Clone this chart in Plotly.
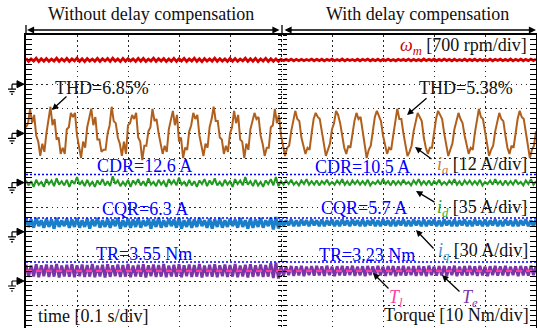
import numpy as np
import plotly.graph_objects as go

# ---------------- data ----------------
DT_IA = 0.004   # s, sample step of ia
DT = 0.005      # s, sample step of the other channels

ia_A = [
    3, 5, 12, 5, 9, -1, -4, -11, -5, -9,
    0, 6, 13, 4, 7, -3, -2, -10, -7, -10,
    2, 3, 10, 8, 10, -1, -6, -12, -4, -7,
    3, 7, 12, 4, 8, -3, -3, -9, -8, -8,
    0, 4, 13, 6, 5, -2, -5, -11, -4, -10,
    4, 5, 9, 7, 10, -2, -4, -13, -6, -6,
    1, 3, 12, 6, 7, 0, -5, -10, -6, -9,
    2, 6, 11, 4, 9, -4, -2, -12, -7, -8,
    1, 4, 10, 7, 9, -1, -6, -11, -5, -7,
    3, 7, 13, 6, 6, -2, -3, -10, -6, -9,
    0, 3, 11, 5, 9, -3, -4, -12, -5, -8,
    2, 6, 10, 7, 8, -1, -5, -11, -7, -7,
    3, 4, 12, 5, 9,
    -1, -6, -11, -7, -6,
    1, 6, 11, 7, 6, -2, -6, -10, -7, -8,
    0, 7, 10, 8, 7, 0, -5, -11, -8, -5,
    2, 5, 11, 9, 5, -1, -7, -10, -6, -7,
    0, 6, 10, 7, 8, 1, -6, -12, -8, -6,
    1, 8, 11, 8, 6, -1, -5, -10, -7, -8,
    -1, 6, 12, 7, 7, 0, -6, -11, -9, -6,
    1, 5, 10, 8, 6, -2, -7, -10, -7, -7,
    0, 7, 11, 9, 7, 0, -6, -11, -8, -5,
    2, 6, 10, 7, 5, -1, -5, -10, -7, -8,
    0, 6, 12, 8, 7, 1, -6, -11, -8, -6,
    1, 5, 10, 7, 6, -1, -7, -10, -6, -7,
    0, 7, 11, 8, 7, 0, -6, -12, -8, -6,
    1,
]

wm_rpm = [
    735, 650, 720, 660, 740, 645, 725, 655, 730, 650,
    715, 660, 738, 648, 722, 657, 733, 646, 719, 662,
    741, 651, 726, 644, 731, 659, 717, 653, 736, 647,
    724, 661, 729, 649, 739, 656, 718, 645, 733, 652,
    727, 663, 721, 648, 737, 654, 732, 646, 716, 660,
    742, 650, 723, 657, 730, 645, 719, 655, 734, 649,
    728, 662, 736, 647, 720, 658, 739, 651, 725, 644,
    731, 656, 718, 653, 740, 648, 727, 660, 722, 646,
    735, 655, 729, 650, 717, 661, 738, 647, 724, 652,
    733, 645, 721, 659, 737, 650, 726, 654, 719, 648,
    712, 668, 705, 672, 715, 665, 708, 670, 710, 667,
    703, 674, 714, 666, 707, 671, 711, 664, 706, 673,
    713, 669, 704, 670, 716, 665, 709, 672, 702, 668,
    711, 666, 707, 673, 714, 667, 705, 670, 712, 664,
    708, 671, 715, 669, 703, 666, 710, 674, 706, 668,
    713, 665, 709, 671, 704, 667, 716, 670, 707, 672,
    711, 666, 705, 669, 714, 673, 708, 664, 710, 670,
    703, 668, 715, 667, 706, 672, 712, 665, 709, 671,
    704, 669, 713, 666, 707, 673, 711, 668, 705, 670,
    716, 664, 708, 671, 712, 667, 706, 669, 714, 672,
    710,
]

id_A = [
    3, -4, 2, -6, 4, -3, 1, -6, 5, -2,
    3, -5, 6, -3, 2, -4, 4, -6, 3, -2,
    8, -3, 2, -5, 4, -4, 1, -6, 3, -3,
    5, -4, 2, -5, 9, -2, 3, -5, 1, -4,
    4, -6, 3, -2, 5, -4, 2, -5, 6, -3,
    1, -5, 4, -3, 2, -6, 5, -2, 3, -4,
    7, -3, 1, -5, 4, -4, 2, -6, 3, -2,
    5, -5, 3, -3, 6, -4, 1, -5, 4, -3,
    2, -6, 5, -2, 3, -4, 8, -3, 2, -5,
    4, -4, 1, -6, 3, -2, 5, -4, 8, -5,
    2, -3, 3, -2, 4, -3, 1, -4, 3, -2,
    5, -3, 2, -3, 3, -4, 2, -2, 4, -3,
    1, -3, 3, -2, 5, -3, 2, -4, 3, -2,
    3, -3, 2, -3, 4, -4, 1, -2, 3, -3,
    5, -2, 2, -4, 3, -3, 2, -3, 4, -2,
    1, -4, 3, -2, 5, -3, 2, -3, 3, -4,
    2, -2, 4, -3, 1, -3, 3, -2, 5, -3,
    2, -4, 3, -2, 3, -3, 2, -3, 4, -4,
    1, -2, 3, -3, 5, -2, 2, -4, 3, -3,
    2, -3, 4, -2, 1, -4, 3, -2, 5, -3,
    2,
]

iq_A = [
    16, 6, 15, 5, 17, 7, 14, 5, 16, 6,
    15, 4, 17, 6, 14, 7, 16, 5, 15, 6,
    17, 5, 14, 6, 16, 4, 15, 7, 17, 5,
    14, 6, 16, 5, 15, 7, 17, 4, 14, 6,
    16, 5, 15, 6, 17, 5, 14, 7, 16, 4,
    15, 6, 17, 5, 14, 6, 16, 7, 15, 5,
    17, 4, 14, 6, 16, 5, 15, 6, 17, 7,
    14, 5, 16, 4, 15, 6, 17, 5, 14, 6,
    16, 7, 15, 5, 17, 6, 14, 4, 16, 5,
    15, 6, 17, 5, 14, 7, 17, 3, 18, 4,
    15, 7, 14, 8, 15, 7, 14, 7, 15, 8,
    14, 7, 15, 8, 14, 7, 15, 7, 14, 8,
    15, 7, 14, 7, 15, 8, 14, 7, 15, 8,
    14, 7, 15, 7, 14, 8, 15, 7, 14, 7,
    15, 8, 14, 7, 15, 7, 14, 8, 15, 7,
    14, 7, 15, 8, 14, 7, 15, 7, 14, 8,
    15, 7, 14, 7, 15, 8, 14, 7, 15, 7,
    14, 8, 15, 7, 14, 7, 15, 8, 14, 7,
    15, 7, 14, 8, 15, 7, 14, 7, 15, 8,
    14, 7, 15, 7, 14, 8, 15, 7, 14, 7,
    15,
]

te_Nm = [
    6.6, 1.7, 6.3, 1.9, 6.8, 1.5, 6.4, 2.0, 6.7, 1.6,
    6.5, 1.8, 6.9, 1.4, 6.3, 1.9, 6.6, 1.7, 6.8, 1.5,
    6.4, 2.0, 6.7, 1.6, 6.5, 1.8, 6.9, 1.5, 6.3, 1.9,
    6.6, 1.4, 6.8, 1.7, 6.4, 2.0, 6.7, 1.6, 6.5, 1.8,
    6.9, 1.5, 6.3, 1.9, 6.6, 1.7, 6.8, 1.4, 6.4, 2.0,
    6.7, 1.6, 6.5, 1.8, 6.9, 1.5, 6.3, 1.9, 6.6, 1.7,
    6.8, 1.5, 6.4, 2.0, 6.7, 1.6, 6.5, 1.8, 6.9, 1.4,
    6.3, 1.9, 6.6, 1.7, 6.8, 1.5, 6.4, 2.0, 6.7, 1.6,
    6.5, 1.8, 6.9, 1.5, 6.3, 1.9, 6.6, 1.4, 6.8, 1.7,
    6.4, 2.0, 6.7, 1.6, 6.5, 1.8, 7.2, 1.2, 7.4, 1.0,
    6.0, 2.2, 5.8, 2.4, 6.1, 2.1, 5.9, 2.3, 6.2, 2.0,
    5.8, 2.4, 6.0, 2.2, 6.1, 2.3, 5.9, 2.1, 6.2, 2.4,
    5.8, 2.0, 6.0, 2.3, 6.1, 2.2, 5.9, 2.4, 6.2, 2.1,
    5.8, 2.3, 6.0, 2.0, 6.1, 2.4, 5.9, 2.2, 6.2, 2.3,
    5.8, 2.1, 6.0, 2.4, 6.1, 2.0, 5.9, 2.3, 6.2, 2.2,
    5.8, 2.4, 6.0, 2.1, 6.1, 2.3, 5.9, 2.0, 6.2, 2.4,
    5.8, 2.2, 6.0, 2.3, 6.1, 2.1, 5.9, 2.4, 6.2, 2.0,
    5.8, 2.3, 6.0, 2.2, 6.1, 2.4, 5.9, 2.1, 6.2, 2.3,
    5.8, 2.0, 6.0, 2.4, 6.1, 2.2, 5.9, 2.3, 6.2, 2.1,
    5.8, 2.4, 6.0, 2.0, 6.1, 2.3, 5.9, 2.2, 6.2, 2.4,
    6.0,
]

tl_t = [0.0, 1.0]
tl_Nm = [4.1, 4.1]

# reference (envelope) levels, channel units
ref_t = [0.0, 1.0]
cdr_level_A = [11.5, 11.5]
cqr_level_A = [16.8, 16.8]
tr_level_Nm = [7.7, 7.7]

# channel ground (in divisions from bottom) and scale per division
GND = {"wm": 10, "ia": 8, "id": 6, "iq": 4, "T": 2}
SCALE = {"wm": 700, "ia": 12, "id": 35, "iq": 30, "T": 10}

# ---------------- geometry ----------------
W, H = 537, 328
ML, MR, MT, MB = 26, 1, 35, 0
PW, PH = W - ML - MR, H - MT - MB
DIV_PX = 24.6
Y_TOP = 12.0
Y_BOT = Y_TOP - PH / DIV_PX


def to_div(ch, vals):
    return GND[ch] + np.asarray(vals, dtype=float) / SCALE[ch]


def pp(xp, yp):
    """pixel position -> paper coords"""
    return (xp - ML) / PW, (H - MB - yp) / PH


t_ia = np.arange(len(ia_A)) * DT_IA
t_wm = np.arange(len(wm_rpm)) * DT
t_id = np.arange(len(id_A)) * DT
t_iq = np.arange(len(iq_A)) * DT
t_te = np.arange(len(te_Nm)) * DT

C_WM, C_IA, C_ID, C_IQ = "#d40000", "#b0601c", "#1f9a1f", "#1a7fc8"
C_TE, C_TL, C_REF = "#7b35a6", "#ff3d9e", "#0000ff"

fig = go.Figure()
fig.add_trace(go.Scatter(x=t_wm, y=to_div("wm", wm_rpm), mode="lines",
                         line=dict(color=C_WM, width=2.8)))
fig.add_trace(go.Scatter(x=t_ia, y=to_div("ia", ia_A), mode="lines",
                         line=dict(color=C_IA, width=2.0)))
fig.add_trace(go.Scatter(x=t_id, y=to_div("id", id_A), mode="lines",
                         line=dict(color=C_ID, width=2.0)))
fig.add_trace(go.Scatter(x=t_iq, y=to_div("iq", iq_A), mode="lines",
                         line=dict(color=C_IQ, width=3.2)))
fig.add_trace(go.Scatter(x=t_te, y=to_div("T", te_Nm), mode="lines",
                         line=dict(color=C_TE, width=2.9)))
fig.add_trace(go.Scatter(x=tl_t, y=to_div("T", tl_Nm), mode="lines",
                         line=dict(color=C_TL, width=2.2, dash="6px,4px")))
for ch, lv in (("id", cdr_level_A), ("iq", cqr_level_A), ("T", tr_level_Nm)):
    fig.add_trace(go.Scatter(x=ref_t, y=to_div(ch, lv), mode="lines",
                             line=dict(color=C_REF, width=1.5, dash="2px,2px")))
# dummy traces for the centre tick columns
fig.add_trace(go.Scatter(x=[None], y=[None], yaxis="y2"))
fig.add_trace(go.Scatter(x=[None], y=[None], yaxis="y3"))

GRID = dict(showgrid=True, gridcolor="rgba(0,0,0,0.85)", gridwidth=1.2,
            griddash="1.5px,3.6px")

fig.update_layout(
    width=W, height=H, showlegend=False,
    margin=dict(l=ML, r=MR, t=MT, b=MB, pad=0),
    paper_bgcolor="white", plot_bgcolor="white",
    font=dict(family="Liberation Serif", size=18, color="#111"),
    xaxis=dict(range=[0, 1.0], side="top", showline=True, linecolor="black",
               linewidth=1.5, ticks="", showticklabels=False, dtick=0.1, tick0=0,
               zeroline=False, **GRID),
    yaxis=dict(range=[Y_BOT, Y_TOP], showline=True, linecolor="black", linewidth=1.5,
               mirror="allticks", ticks="inside", ticklen=6, tickwidth=1.3,
               tickcolor="black", dtick=1, tick0=0, showticklabels=False,
               zeroline=False,
               minor=dict(dtick=0.2, tick0=0, ticks="inside", ticklen=6,
                          tickwidth=1.3, tickcolor="black", showgrid=False),
               **GRID),
    yaxis2=dict(range=[Y_BOT, Y_TOP], overlaying="y", anchor="free", position=0.502,
                side="left", ticks="outside", ticklen=4, tickwidth=1.3,
                tickcolor="black", dtick=0.2, tick0=0, showline=False,
                showgrid=False, showticklabels=False, zeroline=False),
    yaxis3=dict(range=[Y_BOT, Y_TOP], overlaying="y", anchor="free", position=0.502,
                side="right", ticks="outside", ticklen=4, tickwidth=1.3,
                tickcolor="black", dtick=0.2, tick0=0, showline=False,
                showgrid=False, showticklabels=False, zeroline=False),
)

# ---------------- ground markers ----------------
for ch, g in GND.items():
    fig.add_shape(type="path", xref="paper", yref="y", xsizemode="pixel",
                  ysizemode="pixel", xanchor=0, yanchor=g,
                  path="M -9,3.5 L -2,0 L -9,-3.5 Z",
                  fillcolor="black", line=dict(color="black", width=1))
    fig.add_shape(type="path", xref="paper", yref="y", xsizemode="pixel",
                  ysizemode="pixel", xanchor=0, yanchor=g,
                  path="M -14,0 L -9,0 M -14,0 L -14,-5 M -18,-5 L -10,-5 "
                       "M -16.5,-7.5 L -11.5,-7.5 M -15,-10 L -13,-10",
                  line=dict(color="black", width=1.2))

# small verticals above frame
for xpx in (26, 282):
    x0, _ = pp(xpx, 0)
    _, y0 = pp(0, 35)
    _, y1 = pp(0, 25)
    fig.add_shape(type="line", xref="paper", yref="paper", x0=x0, x1=x0, y0=y0, y1=y1,
                  line=dict(color="black", width=1.3))

# ---------------- span arrows ----------------
_, ya = pp(0, 30)
fig.add_annotation(x=pp(27, 0)[0], y=ya, xref="paper", yref="paper", text="",
                   showarrow=True, ax=254, ay=0, axref="pixel", ayref="pixel",
                   arrowside="end+start", arrowhead=2, startarrowhead=2,
                   arrowsize=1.1, startarrowsize=1.1, arrowwidth=1.3, arrowcolor="black",
                   standoff=0, startstandoff=0)
fig.add_annotation(x=pp(536, 0)[0], y=ya, xref="paper", yref="paper", text="",
                   showarrow=True, ax=-253, ay=0, axref="pixel", ayref="pixel",
                   arrowside="end+start", arrowhead=2, startarrowhead=2,
                   arrowsize=1.1, startarrowsize=1.1, arrowwidth=1.3, arrowcolor="black",
                   standoff=0, startstandoff=0)


def text(xp, yp, s, anchor="center", color="#111"):
    x, y = pp(xp, yp)
    fig.add_annotation(x=x, y=y, xref="paper", yref="paper", text=s, showarrow=False,
                       xanchor=anchor, yanchor="middle", font=dict(color=color))


def pointer(tipx, tipy, tailx, taily):
    x, y = pp(tipx, tipy)
    fig.add_annotation(x=x, y=y, xref="paper", yref="paper", text="", showarrow=True,
                       ax=tailx - tipx, ay=taily - tipy, axref="pixel", ayref="pixel",
                       arrowhead=2, arrowsize=1, arrowwidth=1.3, arrowcolor="black",
                       standoff=0)


text(151, 14, "Without delay compensation")
text(417, 14, "With delay compensation")
text(529, 46, "<span style='color:#cc0000'><i>ω<sub>m</sub></i></span> [700 rpm/div]", "right")
text(102, 88, "THD=6.85%")
text(466, 88, "THD=5.38%")
text(529, 165, "<span style='color:#c87832'><i>i<sub>a</sub></i></span> [12 A/div]", "right")
text(144, 166, "CDR=12.6 A", color=C_REF)
text(362, 167, "CDR=10.5 A", color=C_REF)
text(529, 208, "<span style='color:#2aaa2a'><i>i<sub>d</sub></i></span> [35 A/div]", "right")
text(145, 209, "CQR=6.3 A", color=C_REF)
text(364, 208, "CQR=5.7 A", color=C_REF)
text(530, 251, "<span style='color:#3a96d8'><i>i<sub>q</sub></i></span> [30 A/div]", "right")
text(144, 254, "TR=3.55 Nm", color=C_REF)
text(367, 255, "TR=3.23 Nm", color=C_REF)
text(396, 298, "<i>T<sub>l</sub></i>", color=C_TL)
text(470, 298, "<i>T<sub>e</sub></i>", color=C_TE)
text(531, 315, "Torque [10 Nm/div]", "right")
text(36, 316, "time [0.1 s/div]", "left")

pointer(52, 110, 68, 95)
pointer(407, 115, 428, 97)
pointer(415, 147, 433, 160)
pointer(416, 191, 436, 203)
pointer(416, 230, 435, 250)
pointer(373, 273, 390, 290)
pointer(442, 275, 461, 293)

fig.write_html("out.html")
